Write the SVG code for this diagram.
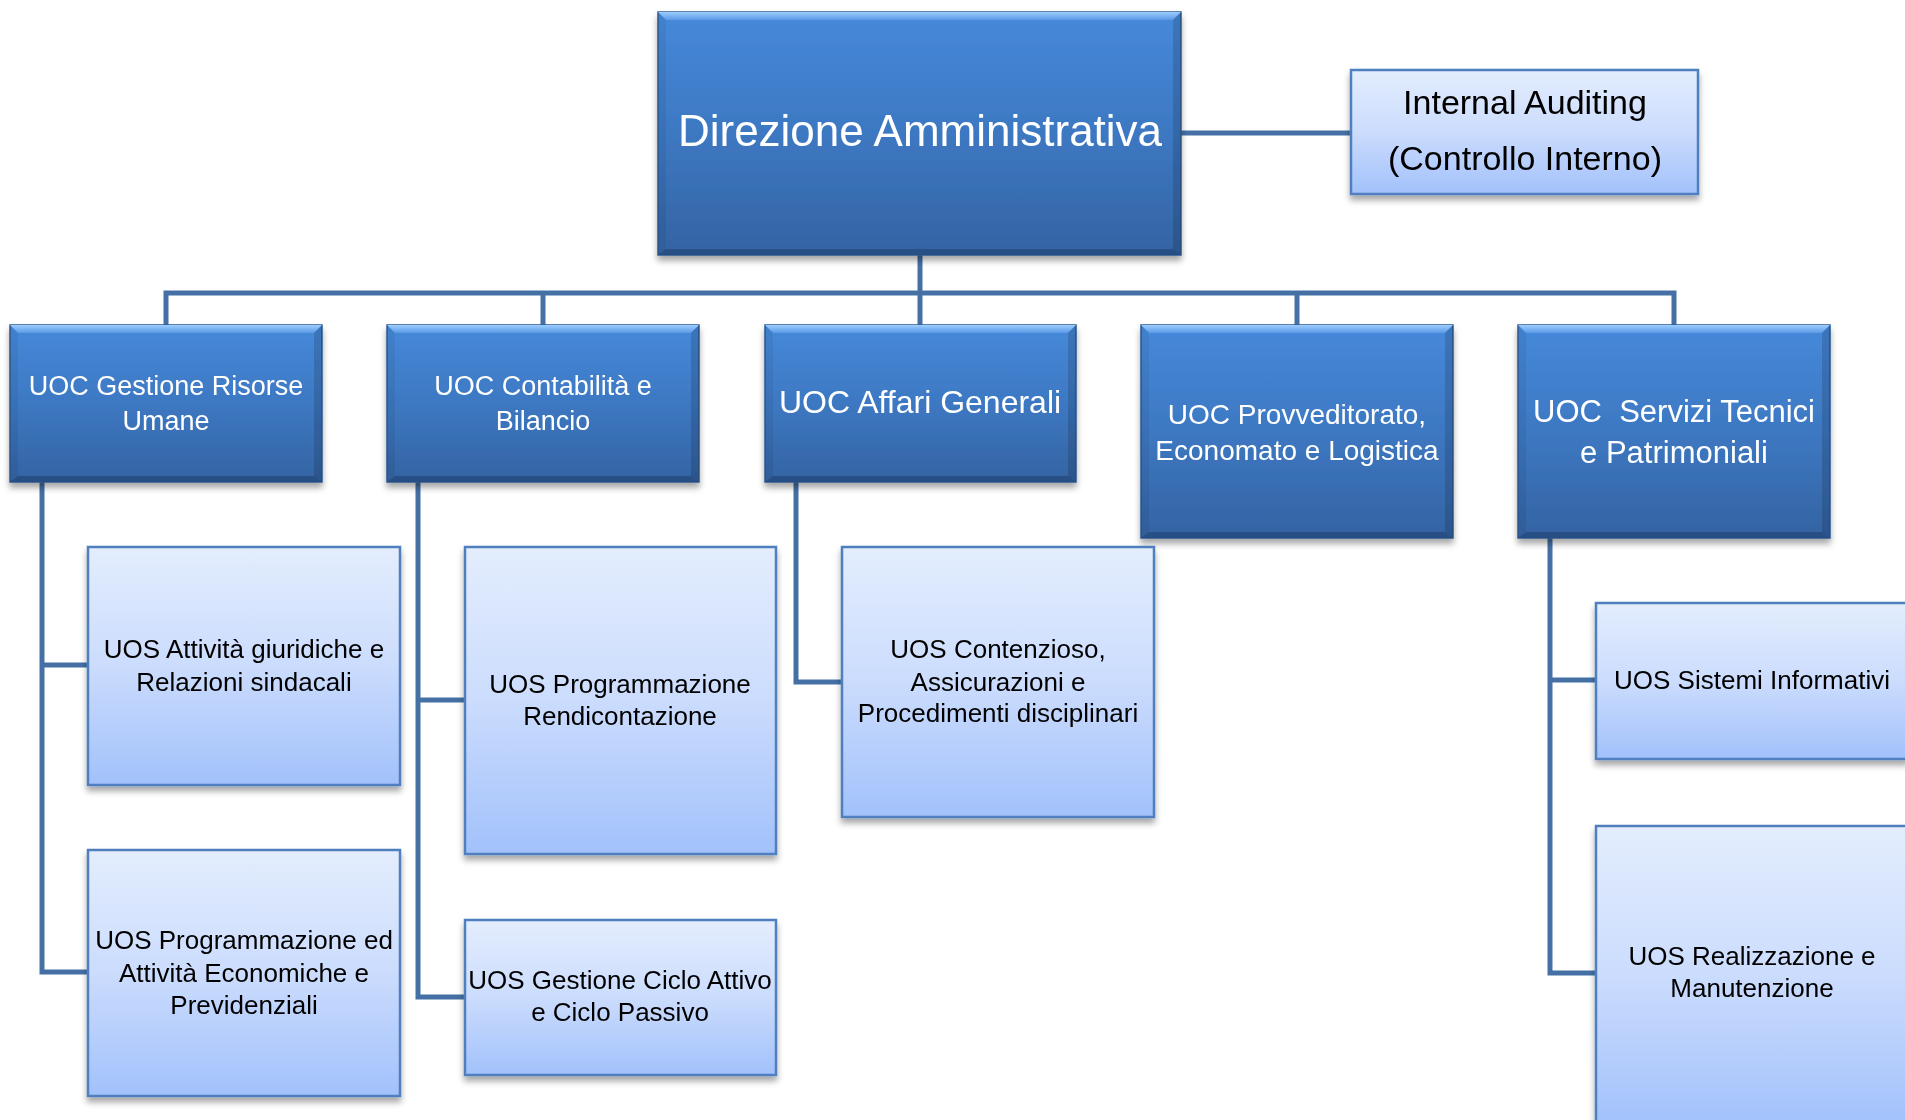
<svg xmlns="http://www.w3.org/2000/svg" width="1905" height="1120" viewBox="0 0 1905 1120">
<defs>
<linearGradient id="gDark" x1="0" y1="0" x2="0" y2="1">
<stop offset="0" stop-color="#4689da"/>
<stop offset="0.5" stop-color="#3d78c2"/>
<stop offset="1" stop-color="#3463a2"/>
</linearGradient>
<linearGradient id="gTop" x1="0" y1="0" x2="0" y2="1">
<stop offset="0" stop-color="#9ccdff"/>
<stop offset="1" stop-color="#5a99e6"/>
</linearGradient>
<linearGradient id="gLight" x1="0" y1="0" x2="0" y2="1">
<stop offset="0" stop-color="#e3edfd"/>
<stop offset="0.5" stop-color="#cbdcfd"/>
<stop offset="1" stop-color="#a2c1fb"/>
</linearGradient>
<filter id="sh" x="-10%" y="-10%" width="120%" height="130%">
<feDropShadow dx="0" dy="5" stdDeviation="3" flood-color="#000" flood-opacity="0.35"/>
</filter>
</defs>
<style>
.dark{fill:url(#gDark);stroke:#2e5a92;stroke-width:1.5}
.top{fill:url(#gTop)}
.lside{fill:#000;opacity:0.06}
.rside{fill:#000;opacity:0.14}
.bot{fill:#1f3f6e;opacity:0.55}
.light{fill:url(#gLight);stroke:#4f7fbf;stroke-width:2.5}
.wt{font-family:"Liberation Sans",Arial,sans-serif;fill:#ffffff;text-anchor:middle}
.bt{font-family:"Liberation Sans",Arial,sans-serif;fill:#000000;text-anchor:middle;font-size:26px}
.con{fill:none;stroke:#4570a6;stroke-width:5;stroke-linejoin:miter;stroke-linecap:butt}
</style>
<rect width="1905" height="1120" fill="#ffffff"/>

<g id="connectors">
<path class="con" d="M1181 133 H1351"/>
<path class="con" d="M920 255 V325"/>
<path class="con" d="M166 325 V293 H1674 V325"/>
<path class="con" d="M543 293 V325"/>
<path class="con" d="M1297 293 V325"/>
<path class="con" d="M42 482 V972 H88 M42 665 H88"/>
<path class="con" d="M418 482 V997 H465 M418 700 H465"/>
<path class="con" d="M796 482 V682 H842"/>
<path class="con" d="M1550 538 V973 H1596 M1550 680 H1596"/>
</g>

<g id="direzione" filter="url(#sh)">
<rect class="dark" x="658" y="12" width="523" height="243"/>
<polygon class="top" points="658,12 1181,12 1173,20 666,20"/>
<polygon class="lside" points="658,12 666,20 666,249 658,255"/>
<polygon class="rside" points="1181,12 1173,20 1173,249 1181,255"/>
<polygon class="bot" points="658,255 666,249 1173,249 1181,255"/>
<text class="wt" x="920" y="146" font-size="44">Direzione Amministrativa</text>
</g>

<g id="internal-auditing" filter="url(#sh)">
<rect class="light" x="1351" y="70" width="347" height="124"/>
<text class="bt" x="1525" y="114" font-size="34px" style="font-size:34px">Internal Auditing</text>
<text class="bt" x="1525" y="170" style="font-size:34px">(Controllo Interno)</text>
</g>

<g id="uoc-risorse-umane" filter="url(#sh)">
<rect class="dark" x="10" y="325" width="312" height="157"/>
<polygon class="top" points="10,325 322,325 314,333 18,333"/>
<polygon class="lside" points="10,325 18,333 18,476 10,482"/>
<polygon class="rside" points="322,325 314,333 314,476 322,482"/>
<polygon class="bot" points="10,482 18,476 314,476 322,482"/>
<text class="wt" x="166" y="395" font-size="27">UOC Gestione Risorse</text>
<text class="wt" x="166" y="430" font-size="27">Umane</text>
</g>

<g id="uoc-contabilita" filter="url(#sh)">
<rect class="dark" x="387" y="325" width="312" height="157"/>
<polygon class="top" points="387,325 699,325 691,333 395,333"/>
<polygon class="lside" points="387,325 395,333 395,476 387,482"/>
<polygon class="rside" points="699,325 691,333 691,476 699,482"/>
<polygon class="bot" points="387,482 395,476 691,476 699,482"/>
<text class="wt" x="543" y="395" font-size="27">UOC Contabilità e</text>
<text class="wt" x="543" y="430" font-size="27">Bilancio</text>
</g>

<g id="uoc-affari-generali" filter="url(#sh)">
<rect class="dark" x="765" y="325" width="311" height="157"/>
<polygon class="top" points="765,325 1076,325 1068,333 773,333"/>
<polygon class="lside" points="765,325 773,333 773,476 765,482"/>
<polygon class="rside" points="1076,325 1068,333 1068,476 1076,482"/>
<polygon class="bot" points="765,482 773,476 1068,476 1076,482"/>
<text class="wt" x="920" y="413" font-size="32">UOC Affari Generali</text>
</g>

<g id="uoc-provveditorato" filter="url(#sh)">
<rect class="dark" x="1141" y="325" width="312" height="213"/>
<polygon class="top" points="1141,325 1453,325 1445,333 1149,333"/>
<polygon class="lside" points="1141,325 1149,333 1149,532 1141,538"/>
<polygon class="rside" points="1453,325 1445,333 1445,532 1453,538"/>
<polygon class="bot" points="1141,538 1149,532 1445,532 1453,538"/>
<text class="wt" x="1297" y="424" font-size="28">UOC Provveditorato,</text>
<text class="wt" x="1297" y="460" font-size="28">Economato e Logistica</text>
</g>

<g id="uoc-servizi-tecnici" filter="url(#sh)">
<rect class="dark" x="1518" y="325" width="312" height="213"/>
<polygon class="top" points="1518,325 1830,325 1822,333 1526,333"/>
<polygon class="lside" points="1518,325 1526,333 1526,532 1518,538"/>
<polygon class="rside" points="1830,325 1822,333 1822,532 1830,538"/>
<polygon class="bot" points="1518,538 1526,532 1822,532 1830,538"/>
<text class="wt" x="1674" y="422" font-size="31" xml:space="preserve">UOC  Servizi Tecnici</text>
<text class="wt" x="1674" y="463" font-size="31">e Patrimoniali</text>
</g>

<g id="uos-attivita-giuridiche" filter="url(#sh)">
<rect class="light" x="88" y="547" width="312" height="238"/>
<text class="bt" x="244" y="658">UOS Attività giuridiche e</text>
<text class="bt" x="244" y="691">Relazioni sindacali</text>
</g>

<g id="uos-programmazione-attivita" filter="url(#sh)">
<rect class="light" x="88" y="850" width="312" height="246"/>
<text class="bt" x="244" y="949">UOS Programmazione ed</text>
<text class="bt" x="244" y="982">Attività Economiche e</text>
<text class="bt" x="244" y="1014">Previdenziali</text>
</g>

<g id="uos-programmazione-rendicontazione" filter="url(#sh)">
<rect class="light" x="465" y="547" width="311" height="307"/>
<text class="bt" x="620" y="693">UOS Programmazione</text>
<text class="bt" x="620" y="725">Rendicontazione</text>
</g>

<g id="uos-gestione-ciclo" filter="url(#sh)">
<rect class="light" x="465" y="920" width="311" height="155"/>
<text class="bt" x="620" y="989">UOS Gestione Ciclo Attivo</text>
<text class="bt" x="620" y="1021">e Ciclo Passivo</text>
</g>

<g id="uos-contenzioso" filter="url(#sh)">
<rect class="light" x="842" y="547" width="312" height="270"/>
<text class="bt" x="998" y="658">UOS Contenzioso,</text>
<text class="bt" x="998" y="691">Assicurazioni e</text>
<text class="bt" x="998" y="722">Procedimenti disciplinari</text>
</g>

<g id="uos-sistemi-informativi" filter="url(#sh)">
<rect class="light" x="1596" y="603" width="312" height="156"/>
<text class="bt" x="1752" y="689">UOS Sistemi Informativi</text>
</g>

<g id="uos-realizzazione" filter="url(#sh)">
<rect class="light" x="1596" y="826" width="312" height="300"/>
<text class="bt" x="1752" y="965">UOS Realizzazione e</text>
<text class="bt" x="1752" y="997">Manutenzione</text>
</g>
</svg>
